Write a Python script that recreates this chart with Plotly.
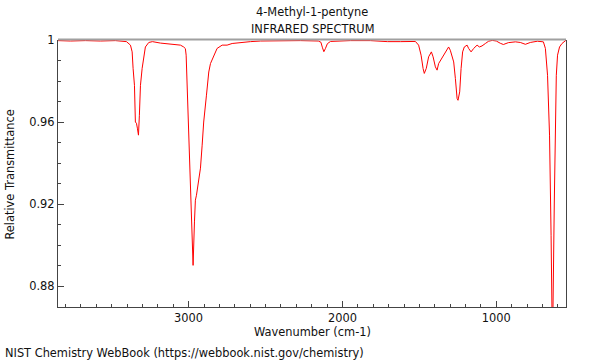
import plotly.graph_objects as go

# Wavenumber (cm-1) and relative transmittance
wavenumber = [3849, 3768, 3671, 3573, 3476, 3430, 3404, 3378, 3367, 3361, 3352, 3346, 3339, 3333,
              3326, 3320, 3313, 3302, 3292, 3281, 3259, 3235, 3183, 3151, 3118, 3086, 3053, 3032,
              3021, 3016, 3010, 2999, 2988, 2977, 2971, 2962, 2956, 2949, 2934, 2923, 2912, 2902,
              2884, 2869, 2858, 2837, 2815, 2782, 2750, 2717, 2663, 2598, 2533, 2403, 2274, 2157,
              2140, 2131, 2121, 2111, 2098, 2078, 1949, 1819, 1708, 1624, 1526, 1505, 1489, 1476,
              1468, 1455, 1440, 1422, 1411, 1396, 1385, 1375, 1359, 1342, 1320, 1310, 1299, 1288,
              1277, 1266, 1255, 1249, 1238, 1229, 1219, 1208, 1190, 1180, 1164, 1147, 1125, 1110,
              1093, 1071, 1050, 1026, 1000, 974, 954, 922, 876, 844, 811, 779, 733, 694, 681, 667,
              654, 644, 635, 623, 616, 610, 602, 589, 573, 547]
transmittance = [0.9998, 0.9996, 0.9998, 0.9996, 0.9998, 0.9995, 0.9993, 0.9976, 0.9943, 0.9863,
                 0.9780, 0.9601, 0.9595, 0.9571, 0.9537, 0.9634, 0.9780, 0.9863, 0.9927, 0.9967,
                 0.9989, 0.9993, 0.9986, 0.9983, 0.9980, 0.9980, 0.9976, 0.9967, 0.9959, 0.9927,
                 0.9780, 0.9537, 0.9293, 0.9049, 0.8902, 0.9114, 0.9220, 0.9244, 0.9309, 0.9376,
                 0.9488, 0.9601, 0.9732, 0.9845, 0.9886, 0.9927, 0.9960, 0.9976, 0.9976, 0.9984,
                 0.9989, 0.9993, 0.9996, 0.9998, 0.9998, 0.9996, 0.9990, 0.9966, 0.9944, 0.9959,
                 0.9983, 0.9994, 0.9998, 0.9998, 0.9993, 0.9993, 0.9994, 0.9976, 0.9927, 0.9862,
                 0.9838, 0.9863, 0.9919, 0.9943, 0.9919, 0.9870, 0.9854, 0.9886, 0.9907, 0.9927,
                 0.9960, 0.9967, 0.9951, 0.9927, 0.9894, 0.9813, 0.9716, 0.9707, 0.9748, 0.9862,
                 0.9943, 0.9967, 0.9976, 0.9960, 0.9943, 0.9960, 0.9976, 0.9967, 0.9972, 0.9984,
                 0.9995, 0.9999, 0.9996, 0.9985, 0.9979, 0.9988, 0.9992, 0.9989, 0.9980, 0.9989,
                 0.9995, 0.9992, 0.9960, 0.9829, 0.9537, 0.9049, 0.8488, 0.9211, 0.9618, 0.9829,
                 0.9927, 0.9967, 0.9984, 1.0000]

x_ticks = [1000, 2000, 3000]
y_ticks = [0.88, 0.92, 0.96, 1.0]
y_tick_labels = ["0.88", "0.92", "0.96", "1"]

title_line1 = "4-Methyl-1-pentyne"
title_line2 = "INFRARED SPECTRUM"
x_title = "Wavenumber (cm-1)"
y_title = "Relative Transmittance"
footer = "NIST Chemistry WebBook (https://webbook.nist.gov/chemistry)"

FONT = "DejaVu Sans"
FS = 11.4
TXT = "#111111"
AXIS_COLOR = "#444444"

fig = go.Figure()
fig.add_trace(go.Scatter(x=wavenumber, y=transmittance, mode="lines",
                         line=dict(color="#ff0000", width=1), hoverinfo="skip",
                         showlegend=False))

fig.update_layout(
    width=600, height=360,
    margin=dict(l=58, r=34, t=40, b=53),
    paper_bgcolor="white", plot_bgcolor="white",
    font=dict(family=FONT, size=FS, color=TXT),
    showlegend=False,
)
fig.update_xaxes(
    range=[3849, 547], showgrid=False, zeroline=False,
    showline=True, linecolor=AXIS_COLOR, linewidth=1.3, mirror=False,
    tickmode="array", tickvals=x_ticks, ticktext=[str(v) for v in x_ticks],
    ticks="inside", ticklen=6, tickcolor=AXIS_COLOR, tickwidth=1,
    tickfont=dict(family=FONT, size=FS, color=TXT),
    minor=dict(tickmode="linear", tick0=0, dtick=100, ticks="inside", ticklen=3,
               tickcolor=AXIS_COLOR, showgrid=False),
)
fig.update_yaxes(
    range=[0.8699, 1.0001], showgrid=False, zeroline=False,
    showline=True, linecolor=AXIS_COLOR, linewidth=1.3, mirror=True,
    tickmode="array", tickvals=y_ticks, ticktext=y_tick_labels,
    ticks="inside", ticklen=6, tickcolor=AXIS_COLOR, tickwidth=1,
    tickfont=dict(family=FONT, size=FS, color=TXT),
    minor=dict(tickmode="linear", tick0=0.8, dtick=0.01, ticks="inside", ticklen=3,
               tickcolor=AXIS_COLOR, showgrid=False),
)

# light grey top border
fig.add_shape(type="line", xref="paper", yref="paper", x0=0, x1=1, y0=1.002, y1=1.002,
              line=dict(color="#a0a0a0", width=2), layer="above")

fig.add_annotation(text=title_line1, xref="paper", yref="paper", x=0.5, y=1.104,
                   xanchor="center", yanchor="middle", showarrow=False,
                   font=dict(family=FONT, size=FS, color=TXT))
fig.add_annotation(text=title_line2, xref="paper", yref="paper", x=0.5, y=1.04,
                   xanchor="center", yanchor="middle", showarrow=False,
                   font=dict(family=FONT, size=FS, color=TXT))
fig.add_annotation(text=x_title, xref="paper", yref="paper", x=0.5, y=-0.094,
                   xanchor="center", yanchor="middle", showarrow=False,
                   font=dict(family=FONT, size=FS, color=TXT))
fig.add_annotation(text=y_title, xref="paper", yref="paper", x=-0.095, y=0.495,
                   xanchor="center", yanchor="middle", showarrow=False, textangle=-90,
                   font=dict(family=FONT, size=FS, color=TXT))
fig.add_annotation(text=footer, xref="paper", yref="paper", x=-0.1075, y=-0.173,
                   xanchor="left", yanchor="middle", showarrow=False,
                   font=dict(family=FONT, size=FS, color=TXT))

fig.write_html("out.html", config={"displayModeBar": False},
               post_script="document.body.style.margin='0';document.body.style.padding='0';")
